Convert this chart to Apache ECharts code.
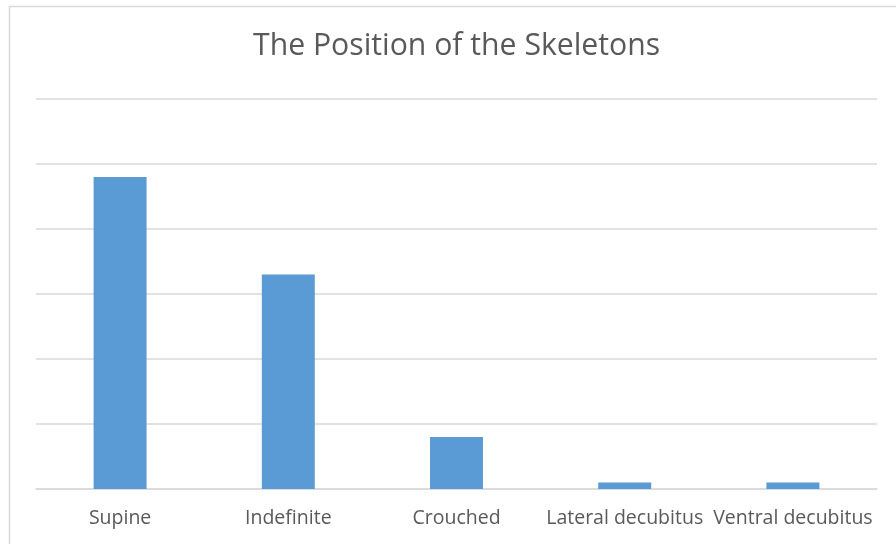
<!DOCTYPE html>
<html>
<head>
<meta charset="utf-8">
<script src="https://cdn.jsdelivr.net/npm/echarts@6/dist/echarts.min.js"></script>
<style>
  html, body { margin: 0; padding: 0; background: #ffffff; }
  #chart { width: 896px; height: 544px; }
</style>
</head>
<body>
<div id="chart"></div>
<script>
// Burial positions and the number of skeletons found in each
const positions = ['Supine', 'Indefinite', 'Crouched', 'Lateral decubitus', 'Ventral decubitus'];
const skeletonCounts = [48, 33, 8, 1, 1];

const chart = echarts.init(document.getElementById('chart'), null, { renderer: 'canvas' });

chart.setOption({
  backgroundColor: '#ffffff',
  animation: false,
  title: {
    text: 'The Position of the Skeletons',
    left: 248,
    top: 26,
    textStyle: {
      fontFamily: 'Open Sans',
      fontSize: 30.2,
      fontWeight: 'normal',
      color: '#595959'
    }
  },
  graphic: [{
    type: 'rect',
    shape: { x: 9.5, y: 6.5, width: 1000, height: 1000 },
    style: { fill: 'none', stroke: '#d9d9d9', lineWidth: 1.5 },
    z: -1
  }],
  grid: { left: 36, right: 19, top: 99, bottom: 55 },
  xAxis: {
    type: 'category',
    data: positions,
    axisLine: { lineStyle: { color: '#d9d9d9', width: 1.5 } },
    axisTick: { show: false },
    axisLabel: {
      fontFamily: 'Open Sans',
      fontSize: 19.5,
      color: '#595959',
      margin: 19,
      interval: 0
    }
  },
  yAxis: {
    type: 'value',
    min: 0,
    max: 60,
    interval: 10,
    axisLabel: { show: false },
    axisLine: { show: false },
    axisTick: { show: false },
    splitLine: { lineStyle: { color: '#d9d9d9', width: 1.5 } }
  },
  series: [{
    type: 'bar',
    data: skeletonCounts,
    barWidth: '31.5%',
    itemStyle: { color: '#5b9bd5' }
  }]
});
</script>
</body>
</html>
